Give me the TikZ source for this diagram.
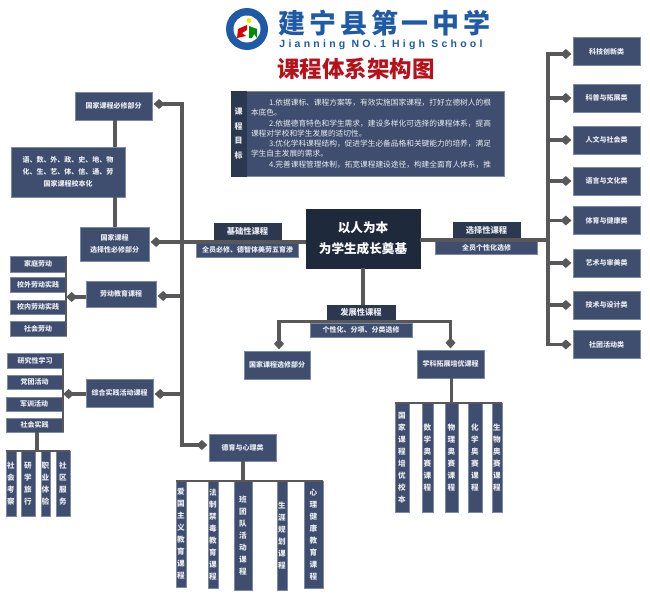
\documentclass[tikz,border=0pt]{standalone}
\usepackage{fontspec}
\setmainfont{Noto Sans CJK SC}
\newfontfamily\schoolfont[LetterSpace=14]{Noto Sans CJK SC}
\newfontfamily\latinfont[LetterSpace=31]{Liberation Sans}
\usetikzlibrary{arrows.meta, positioning}

\definecolor{boxblue}{HTML}{3F4E6E}
\definecolor{boxedge}{HTML}{7D8AA3}
\definecolor{headblue}{HTML}{2B3850}
\definecolor{coreblue}{HTML}{1E2A3B}
\definecolor{linegray}{HTML}{58585A}
\definecolor{schoolblue}{HTML}{1F5AA6}
\definecolor{titlered}{HTML}{B5121B}
\definecolor{boxtext}{HTML}{E8EBF0}

\tikzset{
  box/.style 2 args={rectangle, fill=boxblue, draw=boxedge, line width=.3pt, text=boxtext,
    minimum width=#1pt, minimum height=#2pt, inner sep=0pt, align=center,
    font=\fontsize{7}{12}\selectfont\bfseries},
  vbox/.style 2 args={box={#1}{#2}, font=\fontsize{7.6}{12}\selectfont\bfseries},
  head/.style 2 args={box={#1}{#2}, fill=headblue, draw=headblue,
    font=\fontsize{8.3}{12}\selectfont\bfseries},
  link/.style={draw=linegray, line width=3.2pt},
  bar/.style={draw=linegray, line width=2pt},
  tip/.style={link, -{Diamond[length=11pt, width=10pt, fill=linegray]}, shorten >=1.5pt},
}

\begin{document}
\begin{tikzpicture}[x=1pt,y=-1pt,node distance=2cm,on grid]
   \useasboundingbox (0,0) rectangle (650,605);
   % header
   \fill[schoolblue] (247,29) circle (21);
   \fill[white] (247,29) circle (13.5);
   \fill[red!85!black] (237,38) -- (238,29) -- (247,25) -- (247,30) -- (242,33) -- (246,36) -- cycle;
   \fill[green!55!black] (249,38) -- (249,26) -- (257,29) -- (257,38) -- (254,34) -- (252,38) -- cycle;
   \fill[yellow!85!orange] (249,20.5) circle (2.5);
   \node (school) at (384.5,23) {\fontsize{27}{27}\selectfont\schoolfont\bfseries\color{schoolblue}建宁县第一中学};
   \node (english) at (381,45) {\fontsize{10.5}{11}\selectfont\latinfont\bfseries\color{schoolblue}Jianning NO.1 High School};
   \node (title) at (356,69) {\fontsize{22.5}{24}\selectfont\bfseries\color{titlered}课程体系架构图};
   \node[box={258}{85}, text width=248pt, align=left, font=\fontsize{7.7}{10.3}\selectfont] (aims) at (375,133.5)
     {\hspace*{18pt}1.依据课标、课程方案等，有效实施国家课程，打好立德树人的根\\
      本底色。\\
      \hspace*{18pt}2.依据德育特色和学生需求，建设多样化可选择的课程体系，提高\\
      课程对学校和学生发展的适切性。\\
      \hspace*{18pt}3.优化学科课程结构，促进学生必备品格和关键能力的培养，满足\\
      学生自主发展的需求。\\
      \hspace*{18pt}4.完善课程管理体制，拓宽课程建设途径，构建全面育人体系，推};
   \node[head={15}{85}, font=\fontsize{8}{14.7}\selectfont\bfseries] (aimshead) [left=136.5pt of aims] {课\\程\\目\\标};

   % middle
   \node[box={114}{59}, fill=coreblue, draw=coreblue, text=white, font=\fontsize{12.6}{21}\selectfont\bfseries] (core) at (363,238.5) {以人为本\\为学生成长奠基};
   \node[head={67}{17}] (base) at (247.5,231.5) {基础性课程};
   \node[box={102}{14}] (basenote) [below=18.5pt of base] {全员必修、德智体美劳五育渗};
   \node[head={67}{16}] (choose) at (486.5,230) {选择性课程};
   \node[box={102}{13}] (choosenote) [below=17.5pt of choose] {全员个性化选修};
   \node[head={68}{15}] (dev) at (361,312.5) {发展性课程};
   \node[box={102}{14}] (devnote) [below=17.5pt of dev] {个性化、分项、分类选修};
   \node[box={66}{28}] (natl) at (277,365) {国家课程选修部分};
   \node[box={67}{28}] (subj) at (450.5,364) {学科拓展培优课程};
   \node[vbox={14}{109}] (t1) at (402,457.5) {国\\家\\课\\程\\培\\优\\校\\本};
   \node[vbox={11}{109}] (t2) [right=25.5pt of t1] {数\\学\\奥\\赛\\课\\程};
   \node[vbox={13}{109}] (t3) [right=24pt of t2] {物\\理\\奥\\赛\\课\\程};
   \node[vbox={14}{109}] (t4) [right=23.5pt of t3] {化\\学\\奥\\赛\\课\\程};
   \node[vbox={10}{109}] (t5) [right=22pt of t4] {生\\物\\奥\\赛\\课\\程};

   % right column
   \node[box={67}{28}] (c1) at (606.5,51.5) {科技创新类};
   \node[box={67}{28}] (c2) [below=46.5pt of c1] {科普与拓展类};
   \node[box={67}{28}] (c3) [below=42pt of c2] {人文与社会类};
   \node[box={67}{28}] (c4) [below=41pt of c3] {语言与文化类};
   \node[box={67}{28}] (c5) [below=39.5pt of c4] {体育与健康类};
   \node[box={67}{28}] (c6) [below=42.5pt of c5] {艺术与审美类};
   \node[box={67}{28}] (c7) [below=42pt of c6] {技术与设计类};
   \node[box={67}{28}] (c8) [below=39.5pt of c7] {社团活动类};

   % left column
   \node[box={77}{28}] (req) at (113.5,106) {国家课程必修部分};
   \node[box={114}{50}] (lang) at (68,172) {语、数、外、政、史、地、物\\化、生、艺、体、信、通、劳\\国家课程校本化};
   \node[box={69}{34}] (elect) at (114.5,244) {国家课程\\选择性必修部分};
   \node[box={70}{26}] (labor) at (121,294) {劳动教育课程};
   \node[box={56}{16}] (l1) at (38,264) {家庭劳动};
   \node[box={56}{15}] (l2) [below=20.5pt of l1] {校外劳动实践};
   \node[box={56}{14}] (l3) [below=22.5pt of l2] {校内劳动实践};
   \node[box={56}{15}] (l4) [below=21.5pt of l3] {社会劳动};
   \node[box={67}{28}] (practice) at (119.5,393) {综合实践活动课程};
   \node[box={56}{15}] (p1) at (35,360.5) {研究性学习};
   \node[box={55}{14}] (p2) at (34.5,382) {党团活动};
   \node[box={56}{14}] (p3) at (34,404) {军训活动};
   \node[box={57}{14}] (p4) at (34.5,425) {社会实践};
   \node[vbox={10}{65}] (s1) at (11,483.5) {社\\会\\考\\察};
   \node[vbox={14}{65}] (s2) [right=17pt of s1] {研\\学\\旅\\行};
   \node[vbox={9.5}{65}] (s3) [right=17.5pt of s2] {职\\业\\体\\验};
   \node[vbox={14}{65}] (s4) [right=17.5pt of s3] {社\\区\\服\\务};
   \node[box={67}{27}] (moral) at (242.5,447.5) {德育与心理类};
   \node[vbox={10}{106}] (m1) at (181,534) {爱\\国\\主\\义\\教\\育\\课\\程};
   \node[vbox={10}{107}] (m2) at (213,534.5) {法\\制\\禁\\毒\\教\\育\\课\\程};
   \node[vbox={18}{109}] (m3) at (243,535.5) {班\\团\\队\\活\\动\\课\\程};
   \node[vbox={10}{109}] (m4) at (282,535.5) {生\\涯\\规\\划\\课\\程};
   \node[vbox={19}{107}] (m5) at (313.5,534.5) {心\\理\\健\\康\\教\\育\\课\\程};

   % trunks
   \coordinate (tl) at (182,242);
   \coordinate (tr) at (548,240);
   \coordinate (sj) at (37,451);

   \path[link]
   ([yshift=-3.5pt]core.west) edge (tl)
   ([yshift=-1.5pt]core.east) edge (tr)
   (core.south) edge (core.south |- dev.north)
   ([xshift=1.5pt]req.south) edge ([xshift=1.5pt]req.south |- lang.north)
   ([xshift=.5pt]elect.north |- lang.south) edge ([xshift=.5pt]elect.north)
   (subj.south -| t3.north) edge (t3.north)
   (moral.south -| m3.north) edge (m3.north)
   ([xshift=2.5pt]p4.south) edge (sj);

   \draw[tip] (tl) -- ([yshift=2pt]elect.east);
   \draw[tip] (tl) |- ([yshift=2pt]req.east);
   \draw[tip] (tl) |- ([yshift=2.5pt]moral.west);
   \draw[tip] (tl |- labor.east) ++(0,2) -- ([yshift=-2pt]labor.east);
   \draw[tip] (tl |- practice.east) ++(0,1) -- ([yshift=-1pt]practice.east);
   \draw[tip] (tr) |- ([yshift=-2.5pt]c1.west);
   \draw[tip] (tr) |- (c8.west);
   \draw[tip] (tr |- c2.west) -- (c2.west);
   \draw[tip] (tr |- c3.west) -- (c3.west);
   \draw[tip] (tr |- c4.west) -- (c4.west);
   \draw[tip] (tr |- c5.west) -- (c5.west);
   \draw[tip] (tr |- c6.west) -- (c6.west);
   \draw[tip] (tr |- c7.west) -- (c7.west);
   \draw[tip] ([yshift=-1pt]dev.south) -| ([xshift=2pt]natl.north);
   \draw[tip] ([yshift=-1pt]dev.south) -| (subj.north);

   \draw[bar] ([xshift=-.5pt]l1.north east) -- ([xshift=-.5pt]l4.south east);
   \draw[bar] ([xshift=-.5pt]p1.north east) -- ([xshift=-.5pt]p1.north east |- p4.south);
   \draw[bar] (s1.north west) -- (s4.north east);
   \draw[bar] (m1.north west) -- (m5.north east);
   \draw[bar] (t1.north west) -- (t5.north east);
   \draw[tip, shorten >=0pt] ([yshift=-3pt]labor.west) -- ([yshift=-3pt]labor.west -| l1.east);
   \draw[tip, shorten >=0pt] ([yshift=-1pt]practice.west) -- ([yshift=-1pt]practice.west -| p1.east);
\end{tikzpicture}
\end{document}
